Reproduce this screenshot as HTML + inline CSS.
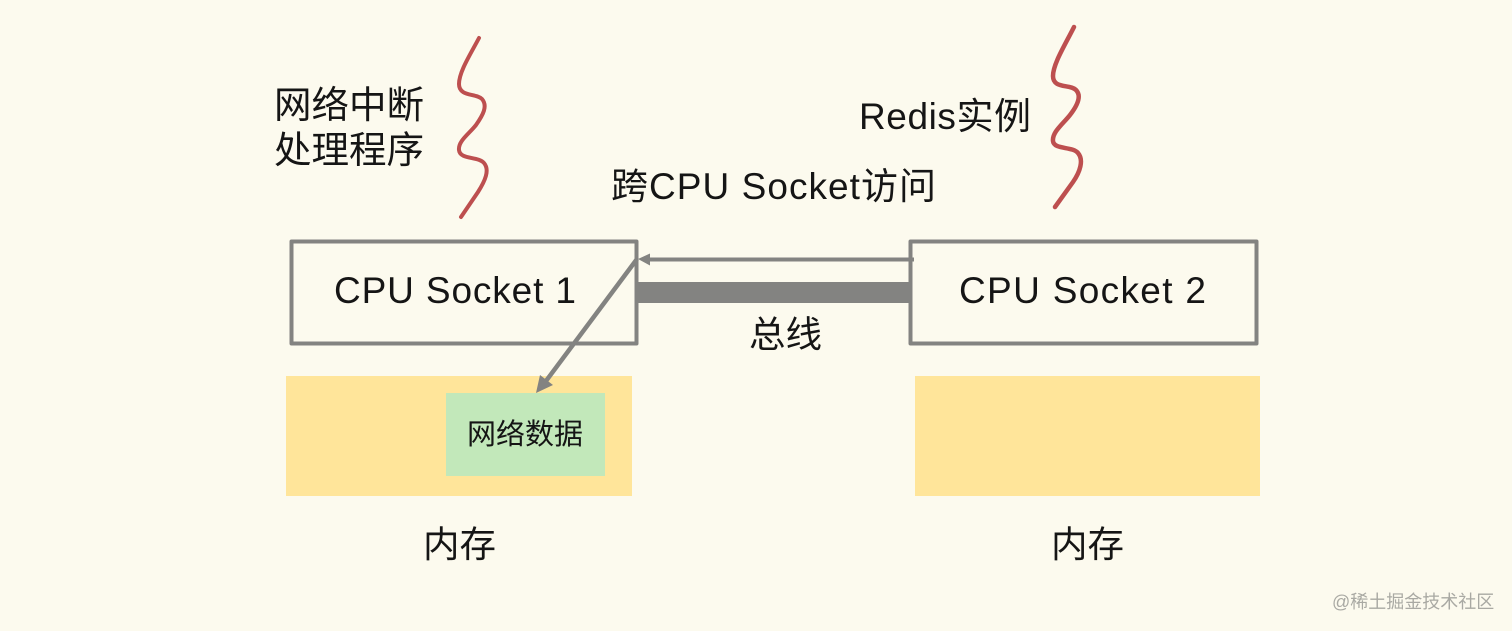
<!DOCTYPE html>
<html><head><meta charset="utf-8"><style>
html,body{margin:0;padding:0;background:#fcfaee;}
svg{display:block;}
text{font-family:"Liberation Sans","Noto Sans CJK SC",sans-serif;fill:#151515;}
</style></head><body>
<svg width="1512" height="631" viewBox="0 0 1512 631" xmlns="http://www.w3.org/2000/svg">
<rect width="1512" height="631" fill="#fcfaee"/>
<rect x="286" y="376" width="346" height="120" fill="#ffe59a"/>
<rect x="915" y="376" width="345" height="120" fill="#ffe59a"/>
<rect x="446" y="393" width="159" height="83" fill="#c2e8ba"/>
<rect x="291.500" y="241.500" width="345" height="102" fill="none" stroke="#838381" stroke-width="4" stroke-linejoin="round"/>
<rect x="910.500" y="241.500" width="346" height="102" fill="none" stroke="#838381" stroke-width="4" stroke-linejoin="round"/>
<rect x="637" y="282" width="273" height="21" fill="#838381"/>
<line x1="914" y1="259.500" x2="646" y2="259.500" stroke="#838381" stroke-width="4"/>
<polygon points="638,259 650,253.500 650,265.500" fill="#838381"/>
<line x1="637" y1="259" x2="543" y2="385" stroke="#838381" stroke-width="4.500"/>
<polygon points="536,393 540,375 553,385" fill="#838381"/>
<path d="M479 38 C470 55 459 72 459 84 C459 97 476 93 482 99 C488 106 483 115 476 125 C469 134 458 141 459 150 C460 160 478 156 484 163 C490 170 485 181 478 192 L461 217" fill="none" stroke="#bd4f4f" stroke-width="4" stroke-linecap="round"/>
<path d="M1074 27 C1065 45 1053 64 1053 76 C1053 89 1070 84 1076 90 C1082 96 1077 106 1070 115 C1063 124 1052 132 1053 141 C1054 150 1072 146 1078 153 C1084 160 1080 172 1073 182 L1055 207" fill="none" stroke="#bd4f4f" stroke-width="4.500" stroke-linecap="round"/>
<text x="274" y="118" font-size="37.500">网络中断</text>
<text x="274" y="163" font-size="37.500">处理程序</text>
<text x="859" y="129" font-size="37" textLength="172">Redis实例</text>
<text x="611" y="199" font-size="37" textLength="325">跨CPU Socket访问</text>
<text x="334" y="303" font-size="37" textLength="242">CPU Socket 1</text>
<text x="959" y="303" font-size="37" textLength="247">CPU Socket 2</text>
<text x="749" y="347" font-size="36.500">总线</text>
<text x="467" y="444" font-size="29">网络数据</text>
<text x="423" y="557" font-size="36.500">内存</text>
<text x="1051" y="557" font-size="36.500">内存</text>
<text x="1332" y="608" font-size="18" style="fill:#a9a9a3">@稀土掘金技术社区</text>
</svg>
</body></html>
